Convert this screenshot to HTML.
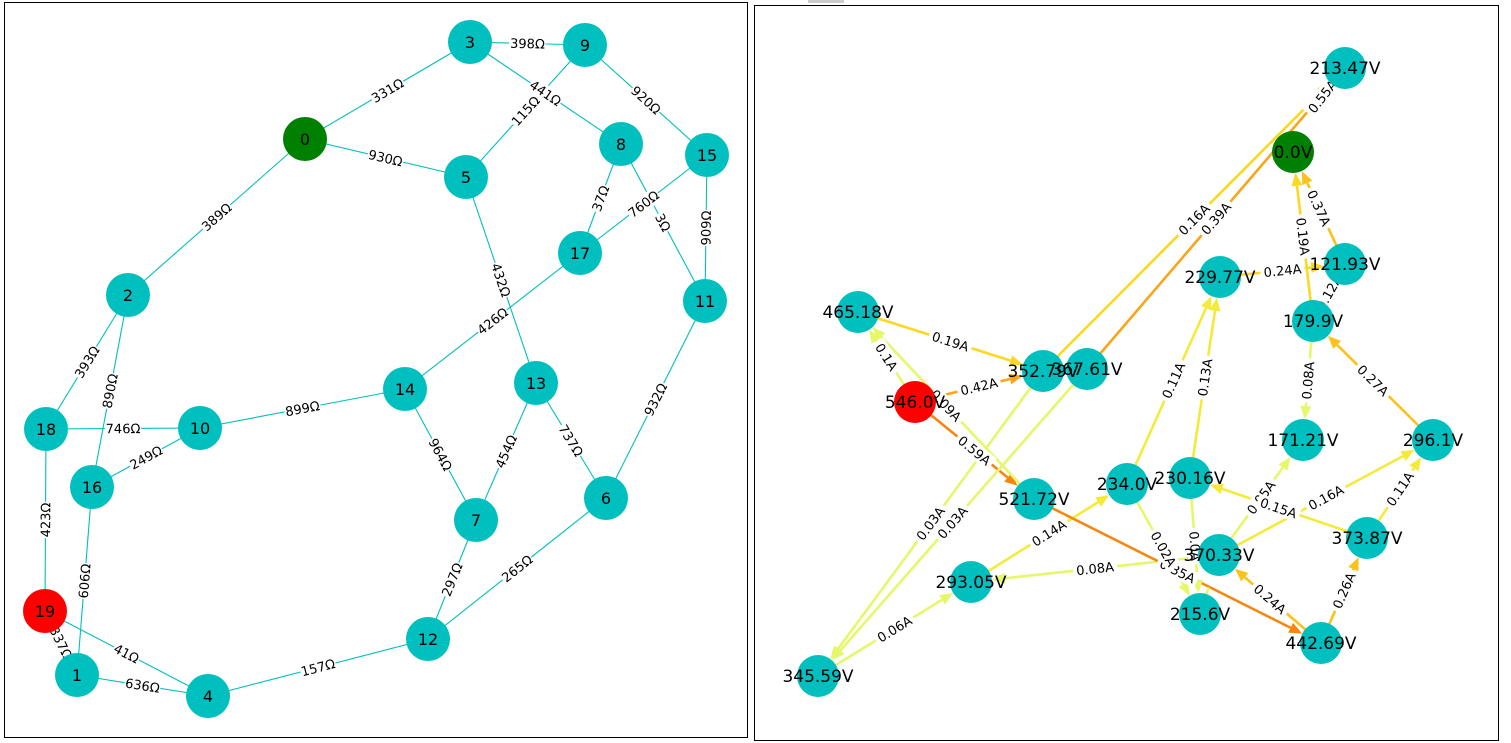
<!DOCTYPE html>
<html><head><meta charset="utf-8"><style>
html,body{margin:0;padding:0;background:#fff;}
svg{display:block;font-family:"DejaVu Sans","Liberation Sans",sans-serif;}
</style></head><body>
<svg id="s" width="1511" height="743" xmlns="http://www.w3.org/2000/svg">
<rect x="0" y="0" width="1511" height="743" fill="#fff"/>
<rect x="808" y="0" width="36" height="3" fill="#ccc"/>
<g id="g1"></g><g id="g2"></g>
<rect x="4.5" y="2.5" width="743" height="735" fill="none" stroke="#000" stroke-width="1"/>
<rect x="754.5" y="5.5" width="744" height="735" fill="none" stroke="#000" stroke-width="1"/>
</svg>
<script>
var NS="http://www.w3.org/2000/svg";
function el(p,t,a,txt){var e=document.createElementNS(NS,t);for(var k in a)e.setAttribute(k,a[k]);if(txt!==undefined)e.textContent=txt;p.appendChild(e);return e;}
function lab(g,x1,y1,x2,y2,t,fs){var mx=(x1+x2)/2,my=(y1+y2)/2;var a=Math.atan2(y2-y1,x2-x1)*180/Math.PI;if(a>90)a-=180;if(a<=-90)a+=180;
var gg=el(g,"g",{transform:"translate("+mx+","+my+") rotate("+a+")"});var w=t.length*fs*0.62;
el(gg,"rect",{x:-w/2-2,y:-fs*0.6,width:w+4,height:fs*1.2,fill:"#fff"});
el(gg,"text",{x:0,y:fs*0.36,"text-anchor":"middle","font-size":fs,fill:"#000"},t);}
// LEFT
var L={0:[305,139],1:[77,675],2:[128,295],3:[470,42],4:[208,696],5:[466,177],6:[606,498],7:[476,520],8:[621,144],9:[585,45],10:[200,428],11:[705,301],12:[428,639],13:[536,383],14:[405,389],15:[707,155],16:[92,487],17:[580,253],18:[46,429],19:[45,611]};
var LE=[[0,3,"331Ω"],[0,5,"930Ω"],[0,2,"389Ω"],[3,9,"398Ω"],[3,8,"441Ω"],[9,5,"115Ω"],[9,15,"920Ω"],[8,17,"37Ω"],[8,11,"3Ω"],[15,17,"760Ω"],[15,11,"909Ω"],[5,13,"432Ω"],[17,14,"426Ω"],[2,18,"393Ω"],[2,16,"890Ω"],[18,10,"746Ω"],[10,16,"249Ω"],[10,14,"899Ω"],[14,7,"964Ω"],[13,7,"454Ω"],[13,6,"737Ω"],[11,6,"932Ω"],[18,19,"423Ω"],[16,1,"606Ω"],[19,1,"337Ω"],[19,4,"41Ω"],[1,4,"636Ω"],[4,12,"157Ω"],[12,7,"297Ω"],[12,6,"265Ω"]];
var g1=document.getElementById("g1");
LE.forEach(function(e){var a=L[e[0]],b=L[e[1]];el(g1,"line",{x1:a[0],y1:a[1],x2:b[0],y2:b[1],stroke:"#00bfbf","stroke-width":1.1});});
LE.forEach(function(e){var a=L[e[0]],b=L[e[1]];lab(g1,a[0],a[1],b[0],b[1],e[2],13);});
for(var k in L){var p=L[k];var c=k==0?"#008000":(k==19?"#ff0000":"#00bfbf");el(g1,"circle",{cx:p[0],cy:p[1],r:22,fill:c});el(g1,"text",{x:p[0],y:p[1]+6,"text-anchor":"middle","font-size":16},k);}
// RIGHT
var R={a:[1345,68,"213.47V"],z:[1293,152,"0.0V"],b:[1220,277,"229.77V"],c:[1345,264,"121.93V"],d:[1313,321,"179.9V"],e:[858,312,"465.18V"],f:[915,402,"546.0V"],g:[1043,371,"352.79V"],h:[1087,369,"367.61V"],i:[1303,440,"171.21V"],j:[1433,440,"296.1V"],k:[1034,499,"521.72V"],l:[1127,484,"234.0V"],m:[1190,478,"230.16V"],n:[1219,555,"370.33V"],o:[1367,538,"373.87V"],p:[971,582,"293.05V"],q:[1200,614,"215.6V"],r:[1321,643,"442.69V"],s:[818,676,"345.59V"]};
var LY="#e6f76a",Y="#f5ea3a",G="#fcd920",GO="#fcc21a",O="#f9a51a",DO="#f7860f";
var RE=[["f","e","0.1A",LY],["e","g","0.19A",G],["f","g","0.42A",O],["f","k","0.59A",DO],["k","e","0.09A",LY],["g","a","0.16A",G],["h","a","0.39A",O],["d","z","0.19A",G],["c","z","0.37A",GO],["b","c","0.24A",G],["d","c","0.12A",Y],["d","i","0.08A",LY],["j","d","0.27A",GO],["l","b","0.11A",Y],["m","b","0.13A",Y],["g","s","0.03A",LY],["h","s","0.03A",LY],["s","p","0.06A",LY],["p","l","0.14A",Y],["n","p","0.08A",LY],["k","r","0.35A",DO],["l","q","0.02A",LY],["m","q","0.0A",LY],["n","i","0.05A",LY],["o","m","0.15A",Y],["n","j","0.16A",Y],["o","j","0.11A",Y],["r","n","0.24A",GO],["r","o","0.26A",GO],["q","n","",LY]];
var g2=document.getElementById("g2");
RE.forEach(function(e){var a=R[e[0]],b=R[e[1]];var dx=b[0]-a[0],dy=b[1]-a[1],L2=Math.hypot(dx,dy),ux=dx/L2,uy=dy/L2;
var tx=b[0]-ux*21,ty=b[1]-uy*21,bx=tx-ux*13,by=ty-uy*13;
el(g2,"line",{x1:a[0],y1:a[1],x2:bx,y2:by,stroke:e[3],"stroke-width":2.6});
if(e[2])el(g2,"polygon",{points:tx+","+ty+" "+(bx-uy*5.5)+","+(by+ux*5.5)+" "+(bx+uy*5.5)+","+(by-ux*5.5),fill:e[3]});});
RE.forEach(function(e){if(!e[2])return;var a=R[e[0]],b=R[e[1]];lab(g2,a[0],a[1],b[0],b[1],e[2],13);});
lab(g2,1300,125,1345,68,"0.55A",13);
for(var k in R){var p=R[k];var c=k=="z"?"#008000":(k=="f"?"#ff0000":"#00bfbf");el(g2,"circle",{cx:p[0],cy:p[1],r:21,fill:c});}
for(var k in R){var p=R[k];el(g2,"text",{x:p[0],y:p[1]+6,"text-anchor":"middle","font-size":17},p[2]);}
</script>
</body></html>
